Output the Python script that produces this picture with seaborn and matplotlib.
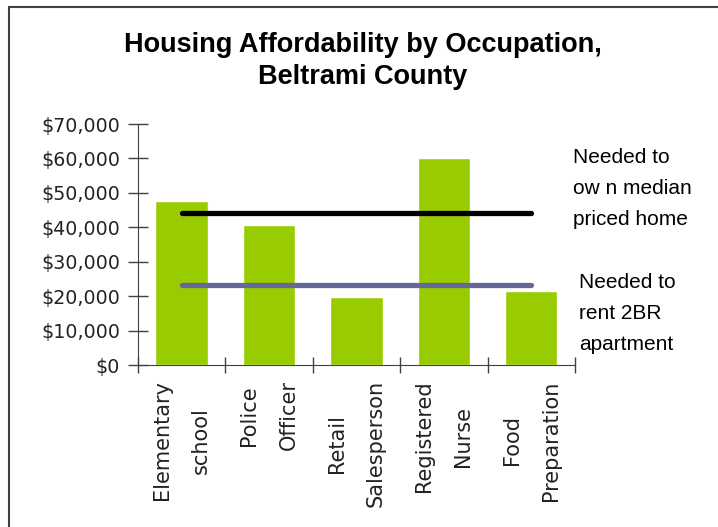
import numpy as np
import seaborn as sns
import matplotlib.pyplot as plt
from matplotlib.patches import Rectangle
from matplotlib.ticker import FuncFormatter, FixedLocator

# chart data
occupations = ['Elementary\nschool', 'Police\nOfficer', 'Retail\nSalesperson',
               'Registered\nNurse', 'Food\nPreparation']
wages = [47700, 40700, 19800, 60000, 21500]
own_home_needed = [44200, 44200, 44200, 44200, 44200]
rent_2br_needed = [23300, 23300, 23300, 23300, 23300]
yticks = [0, 10000, 20000, 30000, 40000, 50000, 60000, 70000]

sns.set_style('white')
plt.rcParams['font.family'] = ['DejaVu Sans']

fig = plt.figure(figsize=(7.18, 5.27), dpi=100)
ax = fig.add_axes([0.1922, 0.3074, 0.6086, 0.4573])

sns.barplot(x=list(range(len(occupations))), y=wages, color='#99CC00',
            saturation=1, width=0.6, ax=ax)

xs = np.arange(len(occupations))
ax.plot(xs, own_home_needed, color='black', lw=3.8, solid_capstyle='round')
ax.plot(xs, rent_2br_needed, color='#666699', lw=3.8, solid_capstyle='round')

ax.set_xlim(-0.5, len(occupations) - 0.5)
ax.set_ylim(0, 70000)
ax.set_yticks(yticks)
ax.yaxis.set_major_formatter(FuncFormatter(lambda v, p: f'${v:,.0f}'))
ax.set_xticks(xs)
ax.set_xticklabels(occupations, rotation=90, ha='center', va='top',
                   multialignment='center', linespacing=2.2)
ax.xaxis.set_minor_locator(FixedLocator(np.arange(-0.5, len(occupations), 1.0)))
ax.tick_params(axis='x', which='major', length=0, pad=11, labelsize=15)
ax.tick_params(axis='x', which='minor', length=12, width=1, direction='inout',
               bottom=True, color='#404040')
ax.tick_params(axis='y', length=14, width=1, direction='inout', left=True,
               labelsize=13.7, color='#404040', pad=6)
for lab in ax.get_yticklabels() + ax.get_xticklabels():
    lab.set_color('#222222')

sns.despine(ax=ax)
ax.spines['left'].set_color('#404040')
ax.spines['bottom'].set_color('#404040')
ax.set_xlabel('')
ax.set_ylabel('')

fig.text(0.505, 0.884, 'Housing Affordability by Occupation,\nBeltrami County',
         ha='center', va='center', fontsize=19.5, fontweight='bold', color='black',
         family='Liberation Sans', linespacing=1.3)

fig.text(0.798, 0.643, 'Needed to\now n median\npriced home', ha='left', va='center',
         fontsize=15, family='Liberation Sans', linespacing=1.8, color='black')
fig.text(0.806, 0.405, 'Needed to\nrent 2BR\napartment', ha='left', va='center',
         fontsize=15, family='Liberation Sans', linespacing=1.8, color='black')

# outer frame (only top/left edges visible in the original crop)
fig.patches.append(Rectangle((9 / 718, -0.1), 1.2, 1 - 7 / 527 + 0.1,
                             transform=fig.transFigure, fill=False,
                             edgecolor='#404040', lw=1.5))

fig.savefig('out.png', dpi=100)
